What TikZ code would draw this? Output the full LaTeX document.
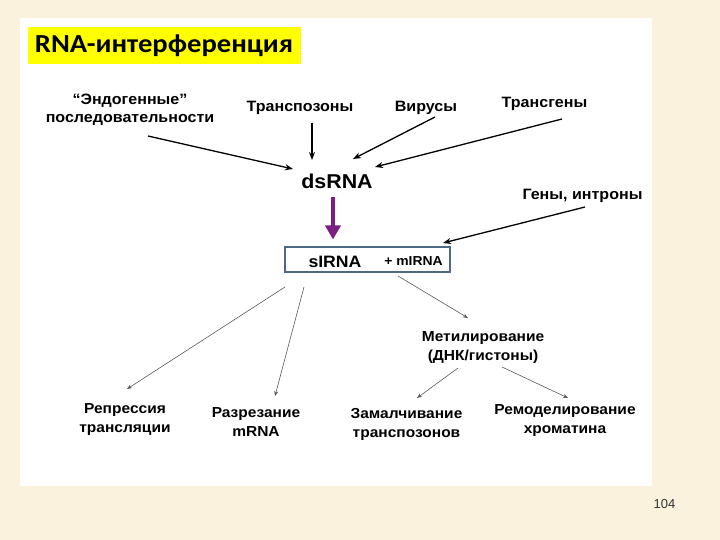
\documentclass[tikz,border=0pt]{standalone}
\usepackage{fontspec}
\setmainfont{Liberation Sans}
\newfontfamily\lblfont[FakeStretch=1.07]{Liberation Sans}
\newfontfamily\titlefont[FakeStretch=1.1]{Carlito}
\usetikzlibrary{arrows.meta}

\definecolor{fon}{RGB}{250,242,220}
\definecolor{zholtyj}{RGB}{255,255,0}
\definecolor{fiolet}{RGB}{122,30,132}
\definecolor{ramka}{RGB}{78,104,136}

\begin{document}
\begin{tikzpicture}[x=1pt, y=-1pt,
    metka/.style    = {font=\lblfont\bfseries\fontsize{15}{18}\selectfont, align=center, inner sep=0pt},
    metkamal/.style = {font=\lblfont\bfseries\fontsize{14.5}{19}\selectfont, align=center, inner sep=0pt},
    krupno/.style   = {font=\lblfont\bfseries\fontsize{20}{22}\selectfont, inner sep=0pt},
    strelka/.style  = {-{Stealth[length=8pt,width=6pt]}, line width=1.3pt, black},
    tonkaya/.style  = {-{Stealth[length=5pt,width=4pt]}, line width=0.6pt, black!65},
    tolstaya/.style = {-{Triangle[length=14pt,width=15pt]}, line width=4pt, fiolet},
]

% Fon i belaja oblast
\fill[fon] (0,0) rectangle (720,540);
\fill[white] (20,18) rectangle (652,486);
\useasboundingbox (0,0) rectangle (720,540);

% Zagolovok
\node[fill=zholtyj, minimum width=273pt, minimum height=37pt,
      font=\titlefont\bfseries\fontsize{26}{28}\selectfont] (titul) at (164,45.5) {RNA-интерференция};

% Istochniki
\node[metka] (endo)   at (130,110)   {“Эндогенные”\\последовательности};
\node[metka] (transp) at (300,108)   {Транспозоны};
\node[metka] (virus)  at (426,108)   {Вирусы};
\node[metka] (transg) at (544.5,104) {Трансгены};
\node[metka] (geny)   at (582.5,196) {Гены, интроны};

% dsRNA i sIRNA
\node[krupno] (ds) at (337,181) {dsRNA};
\node[draw=ramka, line width=2.6pt, minimum width=165pt, minimum height=25pt,
      inner sep=0pt] (blok) at (367.5,259.5) {};
\node[krupno, font=\lblfont\bfseries\fontsize{16.5}{20}\selectfont] (si) at (335,262) {sIRNA};
\node[metkamal, font=\lblfont\bfseries\fontsize{13}{16}\selectfont] (mi) at (413.5,261.5) {+ mIRNA};

% Effekty
\node[metkamal] (repr)  at (125,420)   {Репрессия\\трансляции};
\node[metkamal] (razr)  at (256,422)   {Разрезание\\mRNA};
\node[metkamal] (metil) at (483,348)   {Метилирование\\(ДНК/гистоны)};
\node[metkamal] (zamal) at (406.5,424) {Замалчивание\\транспозонов};
\node[metkamal] (remod) at (565,421)   {Ремоделирование\\хроматина};

% Strelki k dsRNA
\draw[strelka] ([shift={(18,26)}]endo.center)     -- ([shift={(-44,-12)}]ds.center);
\draw[strelka] ([shift={(12,15)}]transp.center)   -- ([shift={(-25,-21)}]ds.center);
\draw[strelka] ([shift={(9,9)}]virus.center)      -- ([shift={(16,-22)}]ds.center);
\draw[strelka] ([shift={(17.5,15)}]transg.center) -- ([shift={(38,-14)}]ds.center);
\draw[strelka] ([shift={(2.5,11)}]geny.center)    -- ([shift={(75.5,-16.5)}]blok.center);

% dsRNA -> sIRNA
\draw[tolstaya] ([shift={(-4,16)}]ds.center) -- ([shift={(-34.5,-20)}]blok.center);

% Strelki ot sIRNA
\draw[tonkaya] ([shift={(-82.5,27.5)}]blok.center) -- ([shift={(2,-31)}]repr.center);
\draw[tonkaya] ([shift={(-63.5,27.5)}]blok.center) -- ([shift={(19,-26)}]razr.center);
\draw[tonkaya] ([shift={(30.5,16.5)}]blok.center)  -- ([shift={(-15,-30)}]metil.center);
\draw[tonkaya] ([shift={(-25,20)}]metil.center)    -- ([shift={(10.5,-26)}]zamal.center);
\draw[tonkaya] ([shift={(19,19)}]metil.center)     -- ([shift={(3,-23)}]remod.center);

% Nomer stranicy
\node[font=\fontsize{13}{15}\selectfont, text=black!80, inner sep=0pt] (nomer) at (664.5,504) {104};

\end{tikzpicture}
\end{document}
